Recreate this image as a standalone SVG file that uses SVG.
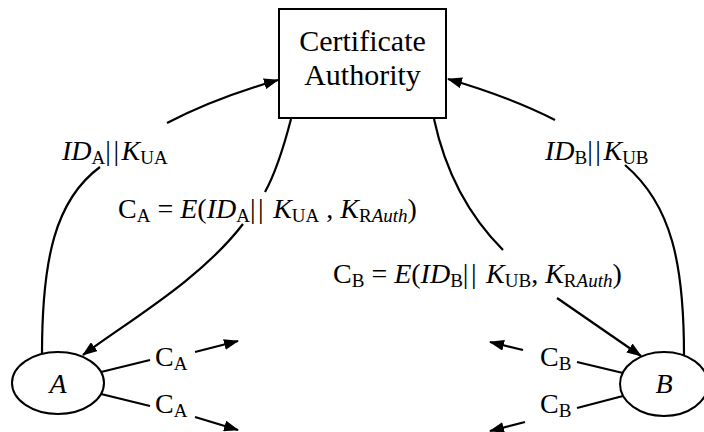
<svg xmlns="http://www.w3.org/2000/svg" width="704" height="432" viewBox="0 0 704 432">
<style>
.t{font-family:"Liberation Serif","DejaVu Serif",serif;font-size:28px;fill:#000}
.b{font-size:30px}
.i{font-style:italic}
.s{font-size:19px}
.bar{letter-spacing:2.5px}
.ln{fill:none;stroke:#000;stroke-width:2.2}
.shape{fill:#fff;stroke:#000;stroke-width:2}
</style>
<defs>
<marker id="ah" markerUnits="userSpaceOnUse" markerWidth="15" markerHeight="11" refX="14" refY="5.5" orient="auto">
<path d="M0,0 L15,5.5 L0,11 z" fill="#000"/>
</marker>
</defs>
<g id="connectors">
<path class="ln" d="M42,354 C42,260 55,200 100,167"/>
<path class="ln" d="M167,123 Q215,98 278,80" marker-end="url(#ah)"/>
<path class="ln" d="M684,355 C684,265 672,205 625,165"/>
<path class="ln" d="M555,120 Q510,97 448,79" marker-end="url(#ah)"/>
<path class="ln" d="M291,119 C283,150 276,172 265,192"/>
<path class="ln" d="M243,224 C200,280 130,320 83,355" marker-end="url(#ah)"/>
<path class="ln" d="M434,119 C445,170 468,215 503,250"/>
<path class="ln" d="M557,298 L641,356" marker-end="url(#ah)"/>
<path class="ln" d="M101,372 L150,360"/>
<path class="ln" d="M101,394 L150,406"/>
<path class="ln" d="M195,352 L238,341" marker-end="url(#ah)"/>
<path class="ln" d="M195,417 L238,430" marker-end="url(#ah)"/>
<path class="ln" d="M623,373 L577,362"/>
<path class="ln" d="M623,396 L577,408"/>
<path class="ln" d="M523,350 L490,342" marker-end="url(#ah)"/>
<path class="ln" d="M525,422 L490,431" marker-end="url(#ah)"/>
</g>
<g id="ca">
<rect class="shape" x="279" y="9" width="167" height="109"/>
<text class="t b" x="362.5" y="51" text-anchor="middle">Certificate</text>
<text class="t b" x="362.5" y="85" text-anchor="middle">Authority</text>
</g>
<g id="nodeA">
<ellipse class="shape" cx="58" cy="383" rx="46" ry="31"/>
<text class="t i" x="58" y="393" text-anchor="middle">A</text>
</g>
<g id="nodeB">
<ellipse class="shape" cx="664" cy="384" rx="44" ry="32"/>
<text class="t i" x="664" y="393" text-anchor="middle">B</text>
</g>
<g id="labels">
<text class="t" x="62" y="160"><tspan class="i">ID</tspan><tspan class="s" dy="4">A</tspan><tspan class="bar" dy="-4">||</tspan><tspan class="i">K</tspan><tspan class="s" dy="4">UA</tspan></text>
<text class="t" x="545" y="160"><tspan class="i">ID</tspan><tspan class="s" dy="4">B</tspan><tspan class="bar" dy="-4">||</tspan><tspan class="i">K</tspan><tspan class="s" dy="4">UB</tspan></text>
<text class="t" x="118" y="218">C<tspan class="s" dy="4">A</tspan><tspan dy="-4"> = </tspan><tspan class="i">E</tspan>(<tspan class="i">ID</tspan><tspan class="s" dy="4">A</tspan><tspan class="bar" dy="-4">||</tspan> <tspan class="i">K</tspan><tspan class="s" dy="4">UA</tspan><tspan dy="-4"> , </tspan><tspan class="i">K</tspan><tspan class="s" dy="4">R</tspan><tspan class="s i">Auth</tspan><tspan dy="-4">)</tspan></text>
<text class="t" x="333" y="283">C<tspan class="s" dy="4">B</tspan><tspan dy="-4"> = </tspan><tspan class="i">E</tspan>(<tspan class="i">ID</tspan><tspan class="s" dy="4">B</tspan><tspan class="bar" dy="-4">||</tspan> <tspan class="i">K</tspan><tspan class="s" dy="4">UB</tspan><tspan dy="-4">, </tspan><tspan class="i">K</tspan><tspan class="s" dy="4">R</tspan><tspan class="s i">Auth</tspan><tspan dy="-4">)</tspan></text>
<text class="t" x="155" y="366">C<tspan class="s" dy="4">A</tspan></text>
<text class="t" x="155" y="413">C<tspan class="s" dy="4">A</tspan></text>
<text class="t" x="540" y="366">C<tspan class="s" dy="4">B</tspan></text>
<text class="t" x="540" y="413">C<tspan class="s" dy="4">B</tspan></text>
</g>
</svg>
